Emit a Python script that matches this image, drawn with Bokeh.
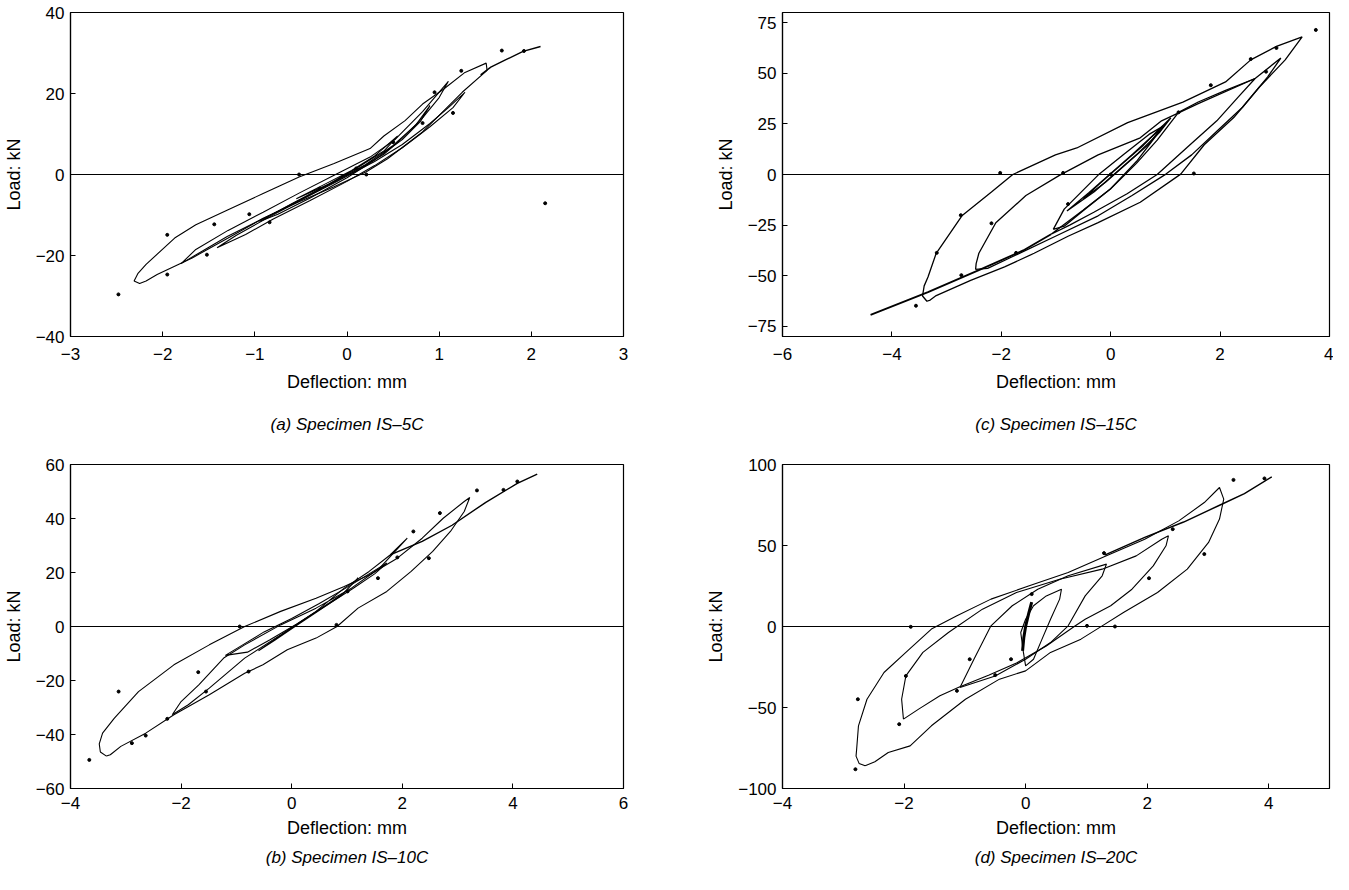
from bokeh.plotting import figure
from bokeh.layouts import column, row
from bokeh.models import FixedTicker, Span, Title
from bokeh.embed import file_html
from bokeh.resources import INLINE

FONT = "Liberation Sans"

# ---------------- Panel (a) Specimen IS-5C ----------------
A_XTICKS = [-3, -2, -1, 0, 1, 2, 3]
A_YTICKS = [-40, -20, 0, 20, 40]
A1_X = [-2.25, -2.31, -2.27, -2.18, -1.87, -1.64, -1.29, -0.91, -0.52, -0.14, 0.25, 0.40, 0.63, 0.82, 1.05, 1.28, 1.51, 1.52, 1.25, 0.82, 0.44, 0.21, -0.14, -0.52, -0.91, -1.29, -1.68, -2.06, -2.18, -2.25]
A1_Y = [-26.9, -26.3, -24.5, -22.2, -15.7, -12.4, -8.7, -4.7, -0.6, 2.7, 6.4, 9.5, 13.3, 17.4, 21.1, 25.2, 27.5, 25.7, 20.3, 10.5, 3.9, 0.7, -3.0, -6.7, -10.8, -15.7, -20.6, -24.7, -26.3, -26.9]
A2_X = [-1.80, -1.64, -1.29, -0.91, -0.52, -0.14, 0.25, 0.52, 0.82, 1.10, 1.00, 0.82, 0.60, 0.40, 0.10, -0.20, -0.50, -0.90, -1.30, -1.60, -1.80]
A2_Y = [-22.0, -18.5, -13.8, -9.3, -4.6, -0.2, 4.3, 8.6, 15.5, 23.0, 19.0, 14.0, 9.0, 5.0, 1.0, -2.6, -6.2, -10.8, -15.3, -19.3, -22.0]
A3_X = [-1.41, -1.20, -0.90, -0.50, -0.10, 0.30, 0.60, 0.90, 1.10, 1.28, 1.15, 0.90, 0.60, 0.30, 0.00, -0.40, -0.80, -1.10, -1.41]
A3_Y = [-18.1, -15.0, -11.2, -6.3, -1.6, 3.2, 7.4, 12.6, 16.5, 20.3, 16.5, 11.8, 6.6, 2.2, -1.7, -6.4, -11.0, -14.8, -18.1]
A4_X = [-0.95, -0.60, -0.20, 0.20, 0.50, 0.75, 0.90, 0.80, 0.60, 0.30, 0.00, -0.40, -0.75, -0.95]
A4_Y = [-11.6, -7.2, -2.4, 2.4, 7.2, 12.3, 17.0, 13.2, 8.6, 3.6, -0.8, -5.8, -9.8, -11.6]
A5_X = [-0.55, -0.25, 0.05, 0.30, 0.55, 0.40, 0.10, -0.20, -0.55]
A5_Y = [-6.0, -2.5, 1.0, 4.6, 9.5, 5.8, 1.5, -2.4, -6.0]
A_BB_X = [1.45, 1.56, 1.73, 1.91, 2.10]
A_BB_Y = [24.6, 26.5, 28.4, 30.4, 31.6]
A_DOT_X = [-2.48, -1.95, -1.95, -1.52, -1.44, -1.06, -0.84, -0.52, -0.30, 0.10, 0.21, 0.50, 0.82, 0.95, 1.15, 1.24, 1.68, 1.92, 2.15]
A_DOT_Y = [-29.6, -24.7, -14.9, -19.8, -12.3, -9.8, -11.8, 0.0, -3.5, 1.5, 0.0, 8.0, 12.7, 20.3, 15.2, 25.6, 30.6, 30.5, -7.1]

# ---------------- Panel (c) Specimen IS-15C ----------------
C_XTICKS = [-6, -4, -2, 0, 2, 4]
C_YTICKS = [-75, -50, -25, 0, 25, 50, 75]
C1_X = [-3.36, -3.44, -3.41, -3.34, -3.19, -2.72, -2.18, -1.79, -1.01, -0.62, 0.31, 1.32, 2.10, 2.56, 3.03, 3.50, 3.19, 2.72, 2.25, 1.71, 1.28, 0.54, -0.23, -0.78, -1.40, -1.94, -2.56, -3.19, -3.30, -3.36]
C1_Y = [-62.6, -60.0, -55.0, -50.6, -38.9, -20.4, -8.7, 0.0, 9.7, 13.1, 25.6, 35.7, 45.7, 56.6, 63.3, 68.0, 56.6, 43.2, 28.1, 14.7, 0.2, -13.7, -23.8, -30.5, -38.9, -45.6, -52.3, -59.8, -62.0, -62.6]
C2_X = [-2.47, -2.46, -2.41, -2.10, -1.55, -0.93, -0.23, 0.54, 0.93, 1.60, 2.64, 3.11, 2.87, 2.41, 1.94, 1.48, 1.01, 0.39, -0.23, -1.01, -1.79, -2.25, -2.47]
C2_Y = [-46.9, -44.0, -38.9, -23.8, -10.4, -0.3, 9.7, 18.1, 26.5, 35.0, 47.4, 57.5, 48.2, 33.2, 21.4, 9.7, 0.2, -10.4, -20.4, -30.5, -40.5, -46.4, -46.9]
C3_X = [-1.09, -0.50, 0.00, 0.47, 0.85, 1.24, 1.60, 2.10, 2.64, 2.33, 1.94, 1.40, 0.85, 0.30, -0.30, -0.75, -1.09]
C3_Y = [-29.5, -17.5, -7.0, 5.5, 17.0, 30.7, 35.8, 41.5, 47.4, 38.2, 26.5, 13.5, 0.0, -9.5, -18.5, -25.0, -29.5]
C4_X = [-1.05, -0.85, -0.54, -0.23, 0.23, 0.70, 0.97, 0.85, 0.47, 0.00, -0.47, -0.85, -1.05]
C4_Y = [-27.1, -17.1, -8.7, -0.3, 9.7, 19.8, 24.0, 19.8, 6.4, -7.0, -17.1, -25.5, -27.1]
C5_X = [-0.80, -0.40, 0.00, 0.40, 0.80, 1.10, 0.90, 0.50, 0.10, -0.30, -0.80]
C5_Y = [-18.0, -9.0, 0.5, 10.0, 20.0, 28.0, 21.0, 10.5, 1.0, -8.5, -18.0]
C6_X = [-0.50, -0.20, 0.20, 0.60, 0.95, 0.70, 0.30, -0.10, -0.50]
C6_Y = [-12.0, -4.5, 5.0, 14.5, 24.0, 15.0, 5.5, -4.0, -12.0]
C_BB_X = [-4.39, -3.34, -2.41, -1.60, -1.09]
C_BB_Y = [-69.3, -58.1, -47.2, -37.5, -29.5]
C_DOT_X = [3.75, 2.84, -2.02, -0.87, 1.52, -2.74, -2.18, -3.18, -3.56, -2.73, -0.78, 1.24, 2.56, 3.03, 1.83, 0.00, -1.73]
C_DOT_Y = [71.4, 50.8, 0.8, 0.8, 0.5, -20.1, -24.1, -38.7, -64.8, -49.7, -14.6, 30.7, 57.0, 62.5, 44.1, 0.0, -38.7]

# ---------------- Panel (b) Specimen IS-10C ----------------
B_XTICKS = [-4, -2, 0, 2, 4, 6]
B_YTICKS = [-60, -40, -20, 0, 20, 40, 60]
B1_X = [-3.35, -3.46, -3.48, -3.42, -3.21, -2.77, -2.13, -1.49, -0.85, -0.20, 0.44, 0.95, 1.40, 1.91, 2.36, 2.74, 3.12, 3.22, 3.12, 2.87, 2.55, 2.16, 1.72, 1.20, 0.82, 0.44, -0.08, -0.52, -0.85, -1.49, -2.13, -2.64, -3.09, -3.28, -3.35]
B1_Y = [-48.0, -46.5, -43.5, -39.5, -34.0, -24.1, -14.2, -6.8, 0.0, 5.6, 10.5, 14.8, 19.1, 25.3, 32.7, 40.1, 46.3, 47.8, 42.6, 35.2, 27.8, 20.4, 13.0, 6.8, 0.0, -4.3, -8.6, -14.2, -17.3, -25.3, -32.7, -39.5, -44.4, -47.5, -48.0]
B2_X = [-2.16, -2.00, -1.68, -1.23, -0.85, -0.20, 0.44, 1.08, 1.59, 2.09, 1.78, 1.40, 0.95, 0.44, -0.20, -0.85, -1.49, -1.87, -2.16]
B2_Y = [-32.7, -27.8, -21.6, -11.7, -6.8, 0.6, 6.8, 14.2, 21.6, 32.7, 26.5, 20.4, 14.2, 5.6, -3.1, -11.7, -22.8, -29.0, -32.7]
B3_X = [-1.20, -0.90, -0.50, 0.00, 0.50, 1.00, 1.40, 1.72, 1.50, 1.10, 0.60, 0.10, -0.40, -0.80, -1.20]
B3_Y = [-10.7, -7.0, -2.0, 3.0, 8.5, 14.5, 19.5, 23.5, 19.5, 14.0, 7.5, 1.0, -5.0, -9.5, -10.7]
B4_X = [-0.60, -0.30, 0.10, 0.50, 0.90, 1.20, 0.95, 0.55, 0.15, -0.25, -0.60]
B4_Y = [-9.0, -5.0, 0.5, 6.0, 11.5, 18.0, 12.5, 7.0, 1.5, -4.0, -9.0]
B_BB_X = [1.78, 2.36, 2.90, 3.51, 4.08, 4.44]
B_BB_Y = [26.5, 31.5, 37.5, 46.0, 53.0, 56.4]
B_DOT_X = [-3.66, -3.13, -2.89, -2.64, -2.25, -1.69, -1.55, -0.94, -0.78, 0.81, 1.01, 1.56, 1.91, 2.20, 2.48, 2.68, 3.35, 3.83, 4.08]
B_DOT_Y = [-49.4, -24.1, -43.2, -40.4, -34.2, -16.9, -24.1, 0.0, -16.7, 0.6, 13.0, 17.9, 25.6, 35.2, 25.3, 42.0, 50.4, 50.6, 53.7]

# ---------------- Panel (d) Specimen IS-20C ----------------
D_XTICKS = [-4, -2, 0, 2, 4]
D_YTICKS = [-100, -50, 0, 50, 100]
D1_X = [-2.64, -2.74, -2.79, -2.78, -2.75, -2.61, -2.33, -1.97, -1.55, -1.13, -0.57, 0.06, 0.70, 1.33, 1.96, 2.52, 2.94, 3.19, 3.26, 3.19, 3.01, 2.66, 2.17, 1.61, 1.26, 0.91, 0.41, 0.00, -0.43, -0.99, -1.55, -1.90, -2.26, -2.48, -2.64]
D1_Y = [-86.0, -84.5, -80.0, -75.7, -61.3, -44.9, -28.4, -16.0, -1.6, 6.6, 16.9, 25.1, 33.3, 43.6, 53.9, 65.2, 76.5, 85.8, 78.6, 66.3, 51.9, 35.4, 21.0, 8.6, 0.4, -7.8, -16.0, -27.4, -32.5, -44.9, -61.3, -73.7, -77.8, -83.5, -86.0]
D2_X = [-2.01, -2.04, -1.97, -1.69, -1.27, -0.71, -0.15, 0.56, 1.26, 1.82, 2.24, 2.35, 2.31, 2.10, 1.75, 1.40, 0.98, 0.80, 0.34, -0.15, -0.60, -1.10, -1.41, -1.76, -2.01]
D2_Y = [-57.2, -44.9, -30.5, -16.0, -3.7, 10.7, 21.0, 29.2, 35.4, 43.6, 53.9, 56.0, 49.8, 37.4, 23.0, 12.8, 4.5, 0.0, -12.0, -22.5, -30.0, -37.5, -42.8, -51.0, -57.2]
D3_X = [-1.08, -0.85, -0.57, -0.22, 0.20, 0.70, 1.33, 1.26, 0.98, 0.70, 0.41, 0.00, -0.50, -1.08]
D3_Y = [-37.7, -20.2, 0.4, 12.8, 23.0, 31.3, 38.5, 31.3, 18.9, 0.4, -9.9, -20.2, -30.5, -37.7]
D4_X = [-0.04, -0.08, 0.00, 0.13, 0.34, 0.59, 0.56, 0.41, 0.27, 0.13, 0.00, -0.04]
D4_Y = [-15.0, -3.7, 4.5, 12.8, 18.9, 23.0, 16.9, 4.5, -7.8, -20.2, -24.3, -15.0]
D_CORE_X = [-0.05, -0.03, 0.00, 0.05, 0.10]
D_CORE_Y = [-15.0, -7.0, 0.0, 8.0, 15.0]
D_BB_X = [1.30, 1.96, 2.60, 3.20, 3.60, 4.05]
D_BB_Y = [44.0, 55.0, 64.5, 75.0, 82.0, 92.4]
D_DOT_X = [-2.80, -2.76, -2.08, -1.97, -1.89, -1.13, -0.92, -0.50, -0.24, 0.10, 1.01, 1.29, 1.47, 2.03, 2.42, 2.94, 3.42, 3.93]
D_DOT_Y = [-88.1, -44.9, -60.3, -30.5, -0.2, -39.7, -20.2, -30.0, -20.2, 20.0, 0.4, 45.3, 0.0, 29.8, 60.1, 44.7, 90.5, 91.4]


def fmt(v):
    return ("\u2212" + str(abs(v))) if v < 0 else str(v)


def make_panel(xr, yr, xticks, yticks, w, h, bl, br, bt, bb, caption,
               cap_standoff, xl_standoff, xlab_standoff):
    p = figure(width=w, height=h, x_range=xr, y_range=yr,
               output_backend="svg", toolbar_location=None,
               min_border_left=bl, min_border_right=br,
               min_border_top=bt, min_border_bottom=bb)
    p.background_fill_color = "white"
    p.border_fill_color = "white"
    p.outline_line_color = "black"
    p.outline_line_width = 1.2
    p.grid.visible = False
    p.xaxis.ticker = FixedTicker(ticks=xticks)
    p.yaxis.ticker = FixedTicker(ticks=yticks)
    p.xaxis.major_label_overrides = {t: fmt(t) for t in xticks}
    p.yaxis.major_label_overrides = {t: fmt(t) for t in yticks}
    p.xaxis.axis_label = "Deflection: mm"
    p.yaxis.axis_label = "Load: kN"
    for ax in (p.xaxis[0], p.yaxis[0]):
        ax.axis_line_color = "black"
        ax.axis_line_width = 1.2
        ax.major_tick_in = 5
        ax.major_tick_out = 0
        ax.major_tick_line_color = "black"
        ax.minor_tick_line_color = None
        ax.major_label_text_font = FONT
        ax.major_label_text_font_size = "17px"
        ax.major_label_text_color = "black"
        ax.axis_label_text_font = FONT
        ax.axis_label_text_font_size = "18px"
        ax.axis_label_text_font_style = "normal"
        ax.axis_label_text_color = "black"
    p.yaxis.major_label_standoff = 6
    p.yaxis.axis_label_standoff = 9
    p.xaxis.major_label_standoff = xl_standoff
    p.xaxis.axis_label_standoff = xlab_standoff
    p.add_layout(Span(location=0, dimension="width", line_color="black", line_width=1.1))
    p.add_layout(Title(text=caption, align="center", text_font=FONT,
                       text_font_size="17px", text_font_style="italic",
                       text_color="black", standoff=cap_standoff), "below")
    return p


def loops(p, xs_list, ys_list, width=1.1):
    for xs, ys in zip(xs_list, ys_list):
        p.line(xs, ys, line_color="black", line_width=width)


# Row 1: height 454 (frame 20..344 on the page), row 2: height 420 (frame 472..796)
pa = make_panel((-3, 3), (-40, 40), A_XTICKS, A_YTICKS, 692, 454, 65, 69, 12, 118,
                "(a) Specimen IS\u20135C", 36, 11, 9)
loops(pa, [A1_X, A2_X, A3_X, A4_X, A5_X], [A1_Y, A2_Y, A3_Y, A4_Y, A5_Y])
loops(pa, [A_BB_X], [A_BB_Y], 1.4)
pa.scatter(A_DOT_X, A_DOT_Y, size=3, color="black")

pc = make_panel((-6, 4), (-80, 80), C_XTICKS, C_YTICKS, 641, 454, 90, 4, 12, 118,
                "(c) Specimen IS\u201315C", 36, 11, 9)
loops(pc, [C1_X, C2_X, C3_X, C4_X, C5_X, C6_X], [C1_Y, C2_Y, C3_Y, C4_Y, C5_Y, C6_Y], 1.3)
loops(pc, [C_BB_X], [C_BB_Y], 1.8)
pc.scatter(C_DOT_X, C_DOT_Y, size=3, color="black")

pb = make_panel((-4, 6), (-60, 60), B_XTICKS, B_YTICKS, 692, 420, 65, 69, 10, 86,
                "(b) Specimen IS\u201310C", 10, 8, 6)
loops(pb, [B1_X, B2_X, B3_X, B4_X], [B1_Y, B2_Y, B3_Y, B4_Y])
loops(pb, [B_BB_X], [B_BB_Y], 1.4)
pb.scatter(B_DOT_X, B_DOT_Y, size=3, color="black")

pd_ = make_panel((-4, 5), (-100, 100), D_XTICKS, D_YTICKS, 641, 420, 90, 4, 10, 86,
                 "(d) Specimen IS\u201320C", 10, 8, 6)
loops(pd_, [D1_X, D2_X, D3_X, D4_X], [D1_Y, D2_Y, D3_Y, D4_Y])
loops(pd_, [D_BB_X], [D_BB_Y], 1.4)
loops(pd_, [D_CORE_X], [D_CORE_Y], 3.0)
pd_.scatter(D_DOT_X, D_DOT_Y, size=3, color="black")

layout = column(row(pa, pc), row(pb, pd_))

open("out.html", "w").write(file_html(layout, INLINE))
